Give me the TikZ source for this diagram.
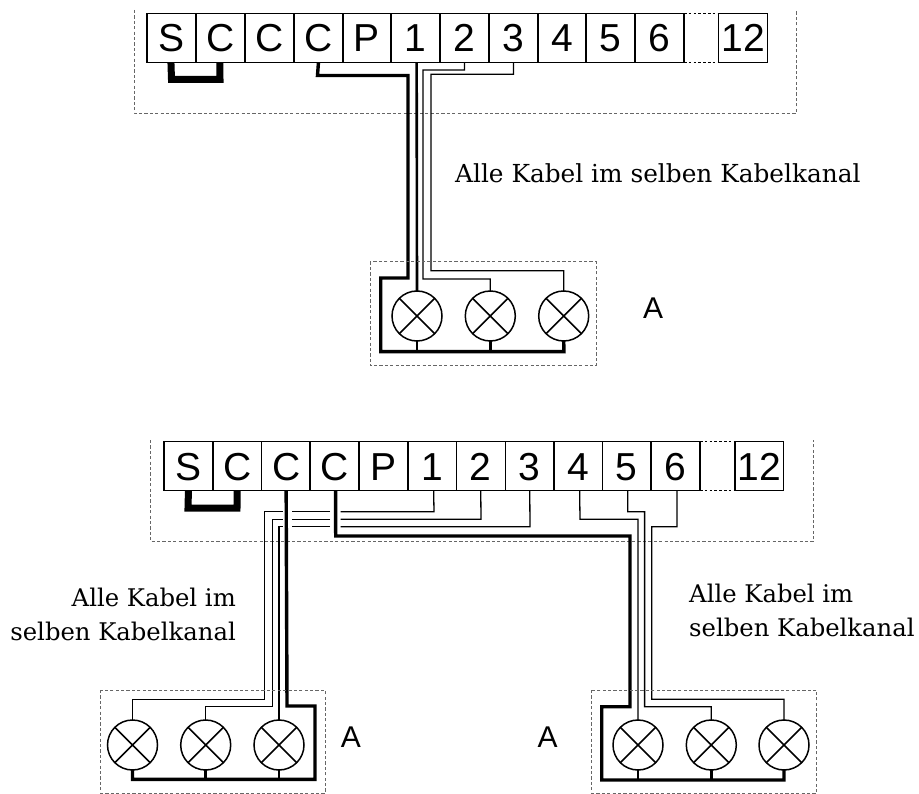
\documentclass[tikz,border=0pt]{standalone}
\usepackage{fontspec}
\setmainfont{DejaVu Serif}
\setsansfont{Liberation Sans}
\tikzset{
  x=1pt,y=-1pt,
  term/.style={draw,line width=1.4pt,minimum height=49pt,inner sep=0pt,outer sep=0pt,text height=28pt,text depth=0pt,font=\sffamily\fontsize{39}{39}\selectfont},
  cellw/.style={minimum width=48.9pt,anchor=north west},
  lamp/.style={circle,draw,line width=1.5pt,minimum size=50pt,inner sep=0pt,outer sep=0pt,
    path picture={\draw[line width=1.5pt] (path picture bounding box.north west)--(path picture bounding box.south east)
      (path picture bounding box.north east)--(path picture bounding box.south west);}},
  wthin/.style={line width=1.3pt},
  wmed/.style={line width=2.6pt},
  wthick/.style={line width=3.4pt,line join=miter},
  jumper/.style={line width=7pt,line join=miter},
  area/.style={draw=black!60,line width=.9pt,dash pattern=on 3.2pt off 2.2pt},
  gapline/.style={line width=1.3pt,dash pattern=on 2.6pt off 2.2pt},
  lbl/.style={inner sep=0pt,font=\fontsize{24.3}{24.3}\selectfont},
  lblwide/.style={inner sep=0pt,font=\fontsize{24.8}{24.8}\selectfont},
  letterA/.style={inner sep=0pt,anchor=base,font=\sffamily\fontsize{30}{30}\selectfont},
}
\begin{document}
\begin{tikzpicture}
\useasboundingbox (0,0) rectangle (919,794);
% ---------- top group
\coordinate (ua) at (134,10);
\coordinate (ub) at (134,113);
\coordinate (uc) at (796.7,113);
\coordinate (ud) at (796.7,10);
\draw[area] (ua)--(ub)--(uc)--(ud);
\foreach \n/\t/\xx in {s/S/147,c1/C/196,c2/C/245,c3/C/294,p/P/342.5,n1/1/391,n2/2/440,n3/3/489,n4/4/537.5,n5/5/586,n6/6/635}
  \node[term,cellw] (u\n) at (\xx,13.5) {\t};
\node[term,minimum width=48.6pt,anchor=north west] (un12) at (718.7,13.5) {12};
\draw[gapline] (un6.north east)--(un12.north west);
\draw[gapline] (un6.south east)--(un12.south west);
\draw[jumper] ([xshift=-.5pt]us.south) -- (171.5,79.5) -- (220,79.5) -- ([xshift=-.5pt]uc1.south);
\node[lamp] (ul1) at (417,316) {};
\node[lamp] (ul2) at (490.3,316) {};
\node[lamp] (ul3) at (563.7,316) {};
\draw[wthick] (uc3.south) -- (317.5,75.5) -- (408,75.5) -- (408,278) -- (380.7,278) -- (380.7,351.7) -- (564,351.7) -- (ul3.south);
\draw[wmed] (ul1.south) -- (417,351.7);
\draw[wmed] (ul2.south) -- (490.3,351.7);
\draw[wmed] ([xshift=1.2pt]un1.south) -- (ul1.north);
\draw[wthin] (un2.south) -- (464.5,70) -- (423,70) -- (423,279) -- (490.3,279) -- (ul2.north);
\draw[wthin] (un3.south) -- (513.5,74.3) -- (431,74.3) -- (431,270.7) -- (563.7,270.7) -- (ul3.north);
\coordinate (ba) at (370,261.7);
\coordinate (bb) at (596,365.7);
\draw[area] (ba) rectangle (bb);
\node[letterA] (ua1) at (653,318.7) {A};
\node[lblwide,anchor=base west] (ut) at (455,182.3) {Alle Kabel im selben Kabelkanal};
% ---------- bottom group
\coordinate (la) at (150.7,440);
\coordinate (lb) at (150.7,541.7);
\coordinate (lc) at (813.3,541.7);
\coordinate (ld) at (813.3,440);
\draw[area] (la)--(lb)--(lc)--(ld);
\foreach \n/\t/\xx in {s/S/164,c1/C/212.7,c2/C/261.7,c3/C/310,p/P/359,n1/1/407.7,n2/2/456.3,n3/3/505.3,n4/4/553.7,n5/5/602.3,n6/6/651}
  \node[term,cellw] (v\n) at (\xx,441.7) {\t};
\node[term,minimum width=48.7pt,anchor=north west] (vn12) at (735,441.7) {12};
\draw[gapline] (vn6.north east)--(vn12.north west);
\draw[gapline] (vn6.south east)--(vn12.south west);
\draw[jumper] (vs.south) -- (188,508) -- (237,508) -- (vc1.south);
% left lamps
\node[lamp] (al1) at (132.5,745) {};
\node[lamp] (al2) at (205.7,745) {};
\node[lamp] (al3) at (279,745) {};
\draw[wthick] (vc2.south) -- (287,706) -- (315,706) -- (315,779.3) -- (132.5,779.3) -- (al1.south);
\draw[wmed] (al2.south) -- (205.7,779.3);
\draw[wmed] (al3.south) -- (279,779.3);
\draw[wthin] ([xshift=1.5pt]vn1.south) -- (434,511.7) -- (340.5,511.7);
\draw[wthin] (330,511.7) -- (291.5,511.7);
\draw[wthin] (282.7,511.7) -- (264.5,511.7) -- (264.5,699.3) -- (132.5,699.3) -- (al1.north);
\draw[wthin] (vn2.south) -- (481,519.3) -- (340.5,519.3);
\draw[wthin] (330,519.3) -- (291.5,519.3);
\draw[wthin] (282.7,519.3) -- (272.5,519.3) -- (272.5,706.7) -- (205.7,706.7) -- (al2.north);
\draw[wthin] (vn3.south) -- (530,526.7) -- (340.5,526.7);
\draw[wthin] (330,526.7) -- (291.5,526.7);
\draw[wthin] (282.7,526.7) -- (279,526.7) -- (al3.north);
% right lamps
\node[lamp] (ar1) at (638,745) {};
\node[lamp] (ar2) at (711.3,745) {};
\node[lamp] (ar3) at (784,745) {};
\draw[wthick] ([xshift=1.2pt]vc3.south) -- (335.7,536) -- (630,536) -- (630,706.7) -- (601.7,706.7) -- (601.7,780) -- (784,780) -- (ar3.south);
\draw[wmed] (ar1.south) -- (638,780);
\draw[wmed] (ar2.south) -- (711.3,780);
\draw[wthin] ([xshift=1.5pt]vn4.south) -- (580,519.3) -- (638,519.3) -- (ar1.north);
\draw[wthin] ([xshift=1pt]vn5.south) -- (627.7,511.7) -- (644.6,511.7) -- (644.6,706.7) -- (711.3,706.7) -- (ar2.north);
\draw[wthin] ([xshift=1.5pt]vn6.south) -- (677,526.7) -- (651.7,526.7) -- (651.7,699.3) -- (784,699.3) -- (ar3.north);
\coordinate (bc) at (100.7,690);
\coordinate (bd) at (325,793.3);
\coordinate (be) at (591.7,690);
\coordinate (bf) at (816.7,793.3);
\draw[area] (bc) rectangle (bd);
\draw[area] (be) rectangle (bf);
\node[letterA] (va1) at (351,747) {A};
\node[letterA] (va2) at (547.5,747) {A};
\node[lbl,anchor=base east] (vl1) at (236,606.7) {Alle Kabel im};
\node[lbl,anchor=base east] (vl2) at (236,640) {selben Kabelkanal};
\node[lbl,anchor=base west] (vr1) at (689,602) {Alle Kabel im};
\node[lbl,anchor=base west] (vr2) at (689,636) {selben Kabelkanal};
\end{tikzpicture}
\end{document}
